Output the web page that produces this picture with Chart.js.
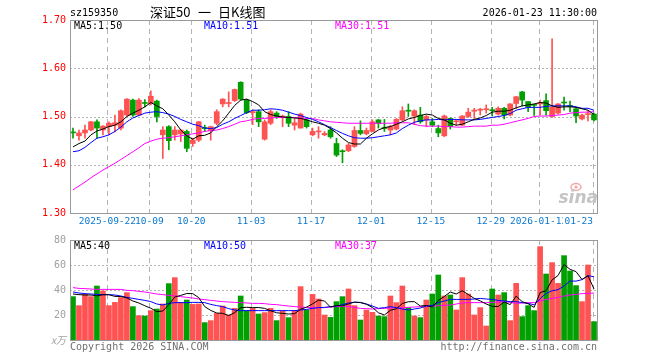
<!DOCTYPE html>
<html>
<head>
<meta charset="utf-8">
<script src="https://cdn.jsdelivr.net/npm/chart.js"></script>
<style>
  html, body { margin: 0; padding: 0; background: #fff; }
  #wrap { position: relative; width: 660px; height: 360px; }
  canvas { position: absolute; left: 0; top: 0; }
</style>
</head>
<body>
<div id="wrap">
  <canvas id="k-chart" width="660" height="360"></canvas>
  <canvas id="vol-chart" width="660" height="360"></canvas>
</div>
<script>
// Trading days shown on the chart
const categories = [
    "2025-09-12", "2025-09-15", "2025-09-16", "2025-09-17", "2025-09-18", "2025-09-19",
    "2025-09-22", "2025-09-23", "2025-09-24", "2025-09-25", "2025-09-26", "2025-09-29", "2025-09-30",
    "2025-10-09", "2025-10-10", "2025-10-13", "2025-10-14", "2025-10-15", "2025-10-16", "2025-10-17",
    "2025-10-20", "2025-10-21", "2025-10-22", "2025-10-23", "2025-10-24", "2025-10-27", "2025-10-28", "2025-10-29", "2025-10-30", "2025-10-31",
    "2025-11-03", "2025-11-04", "2025-11-05", "2025-11-06", "2025-11-07", "2025-11-10", "2025-11-11", "2025-11-12", "2025-11-13", "2025-11-14",
    "2025-11-17", "2025-11-18", "2025-11-19", "2025-11-20", "2025-11-21", "2025-11-24", "2025-11-25", "2025-11-26", "2025-11-27", "2025-11-28",
    "2025-12-01", "2025-12-02", "2025-12-03", "2025-12-04", "2025-12-05", "2025-12-08", "2025-12-09", "2025-12-10", "2025-12-11", "2025-12-12",
    "2025-12-15", "2025-12-16", "2025-12-17", "2025-12-18", "2025-12-19", "2025-12-22", "2025-12-23", "2025-12-24", "2025-12-25", "2025-12-26",
    "2025-12-29", "2025-12-30", "2025-12-31",
    "2026-01-05", "2026-01-06", "2026-01-07", "2026-01-08", "2026-01-09",
    "2026-01-12", "2026-01-13", "2026-01-14", "2026-01-15", "2026-01-16",
    "2026-01-19", "2026-01-20", "2026-01-21", "2026-01-22", "2026-01-23"
];

// OHLC
const openPrices = [
    1.467, 1.460, 1.466, 1.472, 1.489, 1.472, 1.479, 1.482, 1.476, 1.503,
    1.534, 1.503, 1.528, 1.527, 1.532, 1.462, 1.479, 1.462, 1.464, 1.469,
    1.444, 1.451, 1.477, 1.471, 1.486, 1.526, 1.527, 1.533, 1.571, 1.534,
    1.508, 1.510, 1.453, 1.486, 1.507, 1.499, 1.500, 1.482, 1.476, 1.493,
    1.462, 1.468, 1.462, 1.472, 1.444, 1.429, 1.429, 1.438, 1.471, 1.464,
    1.469, 1.493, 1.476, 1.472, 1.474, 1.493, 1.513, 1.501, 1.503, 1.493,
    1.489, 1.475, 1.460, 1.496, 1.489, 1.482, 1.500, 1.511, 1.513, 1.514,
    1.514, 1.505, 1.517, 1.503, 1.527, 1.551, 1.531, 1.524, 1.526, 1.533,
    1.500, 1.507, 1.529, 1.522, 1.516, 1.495, 1.504, 1.505
];
const highPrices = [
    1.476, 1.472, 1.482, 1.490, 1.493, 1.481, 1.489, 1.503, 1.514, 1.537,
    1.536, 1.537, 1.535, 1.553, 1.534, 1.479, 1.481, 1.479, 1.473, 1.472,
    1.455, 1.490, 1.482, 1.480, 1.514, 1.537, 1.551, 1.557, 1.572, 1.536,
    1.514, 1.514, 1.493, 1.514, 1.510, 1.503, 1.510, 1.496, 1.507, 1.496,
    1.476, 1.479, 1.469, 1.479, 1.455, 1.431, 1.444, 1.479, 1.491, 1.476,
    1.493, 1.494, 1.494, 1.482, 1.496, 1.520, 1.526, 1.514, 1.519, 1.503,
    1.496, 1.482, 1.503, 1.497, 1.493, 1.502, 1.517, 1.517, 1.517, 1.524,
    1.519, 1.520, 1.519, 1.527, 1.542, 1.552, 1.531, 1.525, 1.534, 1.547,
    1.661, 1.527, 1.540, 1.532, 1.518, 1.505, 1.513, 1.507
];
const lowPrices = [
    1.455, 1.451, 1.455, 1.470, 1.455, 1.462, 1.462, 1.468, 1.472, 1.500,
    1.500, 1.502, 1.520, 1.524, 1.489, 1.413, 1.431, 1.451, 1.448, 1.427,
    1.438, 1.448, 1.469, 1.451, 1.483, 1.520, 1.520, 1.531, 1.534, 1.506,
    1.483, 1.479, 1.451, 1.483, 1.496, 1.479, 1.479, 1.472, 1.476, 1.476,
    1.460, 1.455, 1.460, 1.455, 1.417, 1.404, 1.427, 1.436, 1.462, 1.462,
    1.469, 1.476, 1.469, 1.462, 1.472, 1.491, 1.500, 1.483, 1.486, 1.479,
    1.479, 1.458, 1.458, 1.474, 1.482, 1.481, 1.498, 1.496, 1.503, 1.507,
    1.501, 1.503, 1.495, 1.501, 1.517, 1.522, 1.510, 1.502, 1.503, 1.503,
    1.498, 1.505, 1.513, 1.510, 1.487, 1.493, 1.491, 1.491
];
const closePrices = [
    1.466, 1.466, 1.472, 1.489, 1.476, 1.480, 1.486, 1.487, 1.512, 1.536,
    1.503, 1.534, 1.527, 1.542, 1.500, 1.472, 1.450, 1.472, 1.472, 1.434,
    1.451, 1.489, 1.475, 1.479, 1.510, 1.536, 1.529, 1.556, 1.536, 1.508,
    1.510, 1.489, 1.489, 1.510, 1.500, 1.501, 1.486, 1.487, 1.505, 1.479,
    1.469, 1.469, 1.465, 1.458, 1.420, 1.427, 1.441, 1.471, 1.465, 1.471,
    1.489, 1.486, 1.475, 1.479, 1.494, 1.512, 1.511, 1.512, 1.489, 1.500,
    1.482, 1.466, 1.501, 1.479, 1.491, 1.501, 1.509, 1.512, 1.514, 1.515,
    1.512, 1.517, 1.503, 1.526, 1.541, 1.534, 1.519, 1.523, 1.527, 1.512,
    1.519, 1.526, 1.528, 1.521, 1.501, 1.503, 1.505, 1.493
];

// Moving averages of price
const ma5 = [
    1.437, 1.444, 1.449, 1.462, 1.470, 1.474, 1.479, 1.482, 1.489, 1.500,
    1.507, 1.513, 1.520, 1.529, 1.522, 1.516, 1.503, 1.489, 1.472, 1.460,
    1.453, 1.460, 1.461, 1.466, 1.479, 1.491, 1.507, 1.523, 1.534, 1.536,
    1.531, 1.524, 1.510, 1.504, 1.501, 1.499, 1.498, 1.497, 1.496, 1.493,
    1.489, 1.486, 1.482, 1.475, 1.466, 1.455, 1.446, 1.443, 1.443, 1.455,
    1.464, 1.472, 1.477, 1.479, 1.484, 1.489, 1.495, 1.498, 1.502, 1.505,
    1.503, 1.496, 1.493, 1.486, 1.482, 1.484, 1.489, 1.494, 1.497, 1.502,
    1.509, 1.511, 1.511, 1.513, 1.518, 1.522, 1.524, 1.526, 1.529, 1.528,
    1.522, 1.519, 1.520, 1.520, 1.519, 1.516, 1.513, 1.504
];
const ma10 = [
    1.427, 1.429, 1.436, 1.446, 1.455, 1.458, 1.462, 1.469, 1.478, 1.489,
    1.497, 1.502, 1.507, 1.509, 1.510, 1.508, 1.505, 1.500, 1.494, 1.489,
    1.484, 1.481, 1.476, 1.475, 1.477, 1.484, 1.489, 1.496, 1.502, 1.508,
    1.513, 1.513, 1.514, 1.516, 1.515, 1.513, 1.509, 1.505, 1.502, 1.498,
    1.494, 1.489, 1.483, 1.477, 1.471, 1.465, 1.460, 1.456, 1.455, 1.455,
    1.456, 1.458, 1.460, 1.462, 1.466, 1.475, 1.482, 1.488, 1.491, 1.493,
    1.493, 1.494, 1.493, 1.494, 1.494, 1.493, 1.493, 1.493, 1.494, 1.496,
    1.498, 1.500, 1.502, 1.506, 1.513, 1.516, 1.519, 1.519, 1.519, 1.521,
    1.522, 1.522, 1.522, 1.522, 1.520, 1.517, 1.517, 1.513
];
const ma30 = [
    1.348, 1.356, 1.364, 1.373, 1.381, 1.389, 1.396, 1.403, 1.411, 1.419,
    1.427, 1.435, 1.444, 1.449, 1.453, 1.455, 1.456, 1.458, 1.460, 1.462,
    1.464, 1.466, 1.469, 1.471, 1.472, 1.475, 1.479, 1.484, 1.489, 1.491,
    1.494, 1.496, 1.496, 1.497, 1.498, 1.498, 1.498, 1.498, 1.497, 1.496,
    1.496, 1.493, 1.491, 1.489, 1.488, 1.487, 1.486, 1.486, 1.486, 1.486,
    1.486, 1.486, 1.486, 1.486, 1.487, 1.487, 1.487, 1.484, 1.481, 1.480,
    1.480, 1.480, 1.479, 1.479, 1.478, 1.478, 1.479, 1.480, 1.480, 1.480,
    1.482, 1.482, 1.484, 1.487, 1.490, 1.493, 1.496, 1.500, 1.501, 1.501,
    1.502, 1.503, 1.504, 1.507, 1.508, 1.509, 1.509, 1.510
];

// Volume, in 10k
const volumes = [
    34.7, 27.5, 36.5, 34.7, 43.2, 39.2, 27.5, 30.1, 33.9, 37.9,
    26.7, 19.5, 19.2, 23.5, 24.8, 28.8, 45.1, 49.9, 30.1, 32.0,
    28.5, 28.8, 13.9, 15.5, 21.3, 27.2, 20.0, 25.3, 35.2, 23.5,
    25.3, 20.8, 21.9, 25.3, 15.5, 23.2, 17.9, 23.5, 42.7, 24.0,
    36.5, 32.8, 20.0, 18.1, 30.7, 34.7, 40.8, 27.5, 16.0, 24.0,
    22.1, 19.2, 18.7, 35.2, 29.9, 43.2, 25.9, 19.2, 17.9, 32.0,
    36.8, 52.0, 35.2, 36.0, 24.0, 49.9, 36.8, 20.0, 25.9, 11.2,
    40.8, 36.0, 37.9, 15.5, 45.3, 18.7, 27.5, 23.5, 74.7, 52.8,
    61.9, 45.3, 67.5, 55.2, 43.5, 30.7, 60.0, 14.7
];
const volMa5 = [
    36.8, 36.3, 36.0, 36.0, 35.3, 36.2, 36.2, 34.9, 34.8, 33.7,
    31.2, 29.6, 27.4, 25.4, 22.7, 23.2, 28.3, 34.4, 35.7, 37.2,
    37.1, 33.9, 26.7, 23.7, 21.6, 21.3, 19.6, 21.9, 25.8, 26.2,
    25.9, 26.0, 25.3, 23.4, 21.8, 21.3, 20.8, 21.1, 24.6, 26.3,
    28.9, 31.9, 31.2, 26.3, 27.6, 27.3, 28.9, 30.4, 29.9, 28.6,
    26.1, 21.8, 20.0, 23.8, 25.0, 29.2, 30.6, 30.7, 27.2, 27.6,
    26.4, 31.6, 34.8, 38.4, 36.8, 39.4, 36.4, 33.3, 31.3, 28.8,
    26.9, 26.8, 30.4, 28.3, 35.1, 30.7, 29.0, 26.1, 37.9, 39.4,
    48.1, 51.6, 60.4, 56.5, 54.7, 48.4, 51.4, 40.8
];
const volMa10 = [
    38.4, 37.6, 37.1, 36.8, 36.5, 36.3, 36.3, 36.0, 35.2, 34.1,
    33.3, 32.5, 31.7, 30.7, 28.8, 28.0, 29.3, 29.9, 29.9, 29.9,
    30.1, 30.1, 29.9, 28.5, 27.5, 26.7, 25.1, 24.0, 23.5, 23.5,
    23.5, 23.5, 23.5, 23.5, 23.5, 23.5, 23.5, 23.5, 24.0, 24.5,
    25.3, 25.9, 26.1, 26.7, 27.2, 28.3, 29.6, 30.1, 30.1, 28.8,
    27.2, 25.3, 25.9, 26.7, 25.9, 24.8, 24.0, 24.8, 25.6, 27.2,
    27.7, 29.9, 31.2, 32.5, 32.5, 32.5, 32.5, 32.8, 33.3, 32.8,
    32.5, 31.7, 31.2, 30.7, 30.7, 29.9, 29.3, 28.2, 33.1, 37.3,
    39.4, 40.3, 43.3, 47.2, 47.1, 48.3, 51.5, 50.6
];
const volMa30 = [
    41.9, 41.3, 41.1, 40.8, 40.5, 40.5, 40.5, 40.5, 40.5, 39.7,
    39.5, 38.9, 38.4, 37.6, 36.8, 36.3, 35.7, 35.2, 34.7, 34.1,
    33.6, 32.8, 32.3, 31.7, 31.2, 30.7, 30.4, 30.1, 29.9, 29.6,
    29.3, 29.3, 29.1, 28.5, 28.3, 27.7, 27.2, 26.7, 26.4, 26.1,
    25.9, 25.9, 25.9, 26.4, 26.7, 26.9, 26.9, 26.1, 25.3, 25.1,
    24.8, 25.1, 25.3, 25.6, 25.9, 25.9, 26.1, 26.4, 26.7, 26.7,
    26.9, 27.5, 27.7, 28.0, 28.8, 29.6, 29.9, 29.9, 29.9, 29.9,
    30.1, 30.4, 30.7, 30.1, 29.3, 29.6, 29.9, 29.9, 31.2, 32.5,
    33.3, 34.1, 35.2, 36.0, 36.5, 37.1, 37.3, 37.6
];

// Axis labels and legends
const tickDates = ["2025-09-22", "2025-10-09", "2025-10-20", "2025-11-03", "2025-11-17",
    "2025-12-01", "2025-12-15", "2025-12-29", "2026-01-12", "2026-01-23"];
const tickLabels = ["2025-09-22", "10-09", "10-20", "11-03", "11-17",
    "12-01", "12-15", "12-29", "2026-01-12", "01-23"];
const priceLegend = ["MA5:1.50", "MA10:1.51", "MA30:1.51"];
const volLegend = ["MA5:40", "MA10:50", "MA30:37"];
const titleParts = ["深证50", "一", "日K线图"];

const UP = "#ff5252";
const DOWN = "#00a000";
const MONO = "'DejaVu Sans Mono', monospace";
const legendColors = ["#000000", "#0000ff", "#ff00ff"];
const legendX = [74, 204, 335];
const titleX = [150, 198, 218];

const candleColors = closePrices.map((c, i) => (c >= openPrices[i] ? UP : DOWN));
const bodies = openPrices.map((o, i) => [o, closePrices[i]]);
const wicks = lowPrices.map((l, i) => [l, highPrices[i]]);

function maLine(data, color) {
    return {
        type: "line",
        data: data,
        borderColor: color,
        borderWidth: 1,
        pointRadius: 0,
        tension: 0,
        order: 0,
    };
}

// grid, frame and legend drawn around each chart area
function framePlugin(hLines, legend, extraBefore, extraAfter) {
    return {
        id: "frame",
        beforeDatasetsDraw(chart) {
            const { ctx, chartArea: a, scales } = chart;
            ctx.save();
            ctx.strokeStyle = "#b4b4b4";
            ctx.lineWidth = 1;
            ctx.setLineDash([2, 2]);
            hLines.forEach((v) => {
                const py = Math.round(scales.y.getPixelForValue(v)) + 0.5;
                ctx.beginPath();
                ctx.moveTo(a.left, py);
                ctx.lineTo(a.right, py);
                ctx.stroke();
            });
            ctx.setLineDash([5, 4]);
            tickDates.forEach((d) => {
                const px = Math.round(scales.x.getPixelForValue(categories.indexOf(d)) - 1.5) + 0.5;
                ctx.beginPath();
                ctx.moveTo(px, a.top);
                ctx.lineTo(px, a.bottom);
                ctx.stroke();
            });
            ctx.restore();
            if (extraBefore) extraBefore(chart);
        },
        afterDatasetsDraw(chart) {
            const { ctx, chartArea: a } = chart;
            ctx.save();
            ctx.strokeStyle = "#9a9a9a";
            ctx.lineWidth = 1;
            ctx.strokeRect(Math.floor(a.left) + 0.5, Math.floor(a.top) + 0.5,
                Math.round(a.right - a.left), Math.round(a.bottom - a.top));
            ctx.font = "10px " + MONO;
            ctx.textBaseline = "middle";
            ctx.textAlign = "left";
            legend.forEach((t, i) => {
                ctx.fillStyle = legendColors[i];
                ctx.fillText(t, legendX[i], a.top + 6);
            });
            ctx.restore();
            if (extraAfter) extraAfter(chart);
        },
    };
}

function drawHeader(chart) {
    const { ctx, chartArea: a, scales } = chart;
    ctx.save();
    ctx.textBaseline = "middle";
    ctx.fillStyle = "#000";
    ctx.font = "10px " + MONO;
    ctx.textAlign = "left";
    ctx.fillText("sz159350", 70, 13);
    ctx.textAlign = "right";
    ctx.fillText("2026-01-23 11:30:00", 597, 13);
    ctx.textAlign = "left";
    ctx.font = "13px 'Noto Sans CJK SC'";
    titleParts.forEach((t, i) => ctx.fillText(t, titleX[i], 12));

    // date labels under the price chart
    ctx.font = "9.5px " + MONO;
    ctx.fillStyle = "#0a78d0";
    tickDates.forEach((d, k) => {
        const px = scales.x.getPixelForValue(categories.indexOf(d)) - 1.5;
        if (k === tickDates.length - 1) {
            const w = ctx.measureText(tickLabels[k]).width;
            ctx.save();
            ctx.fillStyle = "#fff";
            ctx.fillRect(px - w - 1, a.bottom + 3, w + 2, 14);
            ctx.restore();
            ctx.textAlign = "right";
            ctx.fillText(tickLabels[k], px + 0.5, a.bottom + 9);
        } else {
            ctx.textAlign = "center";
            ctx.fillText(tickLabels[k], px, a.bottom + 9);
        }
    });
    ctx.restore();
}

function drawLogo(chart) {
    const { ctx, chartArea: a } = chart;
    ctx.save();
    ctx.strokeStyle = "#f3a7a7";
    ctx.fillStyle = "#f3a7a7";
    ctx.lineWidth = 1.5;
    ctx.beginPath();
    ctx.ellipse(a.right - 21, a.bottom - 26, 5, 3.5, 0, 0, Math.PI * 2);
    ctx.stroke();
    ctx.beginPath();
    ctx.arc(a.right - 21, a.bottom - 26, 1.6, 0, Math.PI * 2);
    ctx.fill();
    ctx.font = "italic bold 17px 'DejaVu Sans', sans-serif";
    ctx.fillStyle = "#c4c4c4";
    ctx.textAlign = "right";
    ctx.textBaseline = "alphabetic";
    ctx.fillText("sina", a.right + 1, a.bottom - 10);
    ctx.restore();
}

function drawFooter(chart) {
    const { ctx } = chart;
    ctx.save();
    ctx.font = "10px " + MONO;
    ctx.fillStyle = "#707070";
    ctx.textBaseline = "middle";
    ctx.textAlign = "left";
    ctx.fillText("Copyright 2026 SINA.COM", 70, 347);
    ctx.textAlign = "right";
    ctx.fillText("http://finance.sina.com.cn", 597, 347);
    ctx.restore();
}

const commonOptions = {
    responsive: false,
    animation: false,
    devicePixelRatio: 1,
    events: [],
    plugins: { legend: { display: false }, tooltip: { enabled: false } },
};

// Price chart
new Chart(document.getElementById("k-chart"), {
    type: "bar",
    data: {
        labels: categories,
        datasets: [
            maLine(ma5, "#000000"),
            maLine(ma10, "#0000ff"),
            maLine(ma30, "#ff00ff"),
            {
                data: bodies,
                backgroundColor: candleColors,
                barThickness: 5,
                minBarLength: 1,
                grouped: false,
                order: 1,
            },
            {
                data: wicks,
                backgroundColor: candleColors,
                barThickness: 1,
                grouped: false,
                order: 2,
            },
        ],
    },
    options: {
        ...commonOptions,
        layout: { padding: { top: 20, bottom: 147, left: 0, right: 63 } },
        scales: {
            x: { display: false, offset: true },
            y: {
                min: 1.3,
                max: 1.7,
                afterFit: (s) => { s.width = 70; },
                grid: { display: false, drawTicks: false },
                border: { display: false },
                ticks: {
                    stepSize: 0.1,
                    padding: 4,
                    color: "#ff0000",
                    font: { family: MONO, size: 10 },
                    callback: (v) => v.toFixed(2),
                },
            },
        },
    },
    plugins: [framePlugin([1.4, 1.5, 1.6], priceLegend, drawLogo, drawHeader)],
});

// Volume chart
new Chart(document.getElementById("vol-chart"), {
    type: "bar",
    data: {
        labels: categories,
        datasets: [
            maLine(volMa5, "#000000"),
            maLine(volMa10, "#0000ff"),
            maLine(volMa30, "#ff00ff"),
            {
                data: volumes,
                backgroundColor: candleColors,
                barThickness: 5,
                order: 1,
            },
        ],
    },
    options: {
        ...commonOptions,
        layout: { padding: { top: 240, bottom: 20, left: 0, right: 63 } },
        scales: {
            x: { display: false, offset: true },
            y: {
                min: 0,
                max: 80,
                afterFit: (s) => { s.width = 70; },
                grid: { display: false, drawTicks: false },
                border: { display: false },
                ticks: {
                    stepSize: 20,
                    padding: 4,
                    color: "#a0a0a0",
                    font: (c) => (c.tick && c.tick.value === 0
                        ? { family: "'Noto Sans CJK SC'", size: 10, style: "italic" }
                        : { family: MONO, size: 10 }),
                    callback: (v) => (v === 0 ? "x万" : v),
                },
            },
        },
    },
    plugins: [framePlugin([20, 40, 60], volLegend, null, drawFooter)],
});
</script>
</body>
</html>
